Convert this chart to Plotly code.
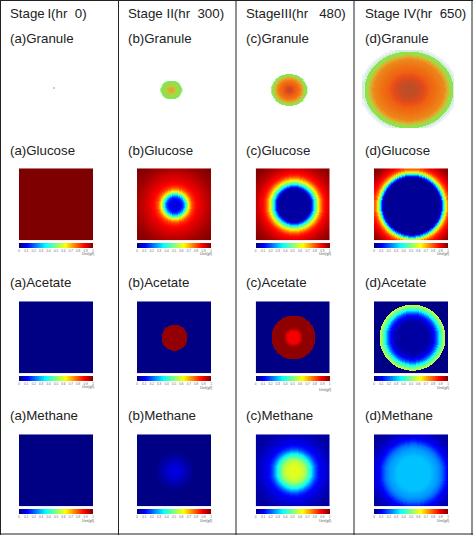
import numpy as np
import plotly.graph_objects as go

W, H = 473, 535

# ---- Text ----------------------------------------------------------------
stage_labels = ["Stage\u2009I(hr\u00a0\u00a00)", "Stage\u00a0II(hr\u00a0\u00a0300)",
                "StageIII(hr\u00a0\u00a0\u00a0480)", "Stage\u00a0IV(hr\u00a0\u00a0650)"]
panel_letters = ["(a)", "(b)", "(c)", "(d)"]
row_names = ["Granule", "Glucose", "Acetate", "Methane"]
tick_values = [0, 0.1, 0.2, 0.3, 0.4, 0.5, 0.6, 0.7, 0.8, 0.9, 1]
tick_labels = ["0", "0.1", "0.2", "0.3", "0.4", "0.5", "0.6", "0.7", "0.8", "0.9", "1"]
unit_label = "Unit(g/l)"

# ---- Values: colour-scale position per 1 px ring ----------------------------
glucose_a = [1.0]
glucose_b = [.08, .08, .08, .09, .10, .11, .13, .15, .20, .28,
             .36, .44, .54, .62, .68, .73, .78, .81, .83, .85,
             .865, .875, .885, .89, .90, .905, .91, .915, .92, .925,
             .93, .935, .94, .945, .95, .955, .96, .965, .97, .973,
             .976, .979, .982, .985, .988, .99, .992, .994, .996, .998, 1.0]
glucose_c = [.03] * 15 + [.035, .05, .09, .16, .26, .36, .43, .50, .56, .62, .68, .73, .77,
                          .81, .84, .86, .875, .885, .895, .905, .915, .925, .935, .94, .945,
                          .955, .96, .965, .97, .975, .98, .985, .99, .993, .996, .998, 1.0]
glucose_d = [.02] * 27 + [.03, .05, .10, .22, .35, .48, .58, .66, .73, .78, .82, .85, .87, .885,
                          .90, .915, .93, .945, .955, .965, .975, .985, .99, 1.0]
acetate_a = [0.005]
acetate_b = [.98] * 13 + [.005]
acetate_c = [.89] * 6 + [.90, .92, .95, .97] + [.985] * 12 + [.005]
acetate_d = [.03] * 15 + [.035, .04, .05, .06, .07, .09, .11, .13, .16, .20, .25, .31, .37, .42,
                          .46, .50, .53, .56, .005]
methane_a = [0.005]
methane_b = [.085, .085, .085, .08, .08, .075, .07, .065, .06, .055, .05, .045, .04, .035, .03,
             .025, .02, .015, .01, .005]
methane_c = [.60] * 6 + [.59, .585, .575, .565, .55, .53, .51, .48, .45, .42, .385, .35, .31, .27,
                         .235, .20, .17, .15, .13, .115, .105, .095, .09, .085, .08, .075, .07,
                         .065, .06, .055, .05, .047, .043, .04, .037, .034, .03]
methane_d = [.30] * 17 + [.295, .29, .285, .28, .275, .27, .265, .26, .25, .24, .23, .22, .20, .18,
                          .16, .14, .125, .11, .10, .09, .08, .075, .07, .06, .055, .05, .045, .04,
                          .035, .03, .03, .025]

# Granule: colour-scale position per 1/20 of the granule radius
granule_b = [.52, .50, .48, .46, .44, .42, .40, .38, .36, .34, .32, .30, .28, .26, .25, .24, .22,
             .20, .20, .18, .0]
granule_c = [.95, .92, .88, .84, .80, .77, .74, .71, .69, .67, .65, .62, .59, .55, .50, .44, .38,
             .30, .24, .20, .0]
granule_d = [.92, .92, .92, .90, .88, .85, .82, .78, .74, .70, .68, .66, .64, .62, .60, .58, .52,
             .42, .30, .22, .10, .06, .0]
granule_a_x = [0.0]
granule_a_y = [-1.0]

# Offsets of the pattern from the panel centre (px)
centre_dx = {"glucose_c": 0.5, "acetate_d": 1.5, "methane_c": 0.5, "methane_d": 1.5,
             "acetate_c": 0.5, "acetate_b": 0.5}
centre_dy = {"acetate_d": 0.7, "methane_d": 2.3, "acetate_b": 0.7, "acetate_c": 0.5,
             "glucose_d": 0.7}

jet = [[0, "#00007f"], [.11, "#0000ff"], [.36, "#00ffff"], [.5, "#7fff7f"],
       [.63, "#ffff00"], [.88, "#ff0000"], [1, "#7f0000"]]
granule_scale = [[0, "#ffffff"], [.08, "#e8eef8"], [.2, "#80e850"], [.35, "#b8d040"],
                 [.5, "#e8a028"], [.65, "#f07010"], [.8, "#e84a18"], [1, "#a05030"]]

# ---- Layout in pixels ------------------------------------------------------
col_left = [19, 137, 255.7, 374]
panel_w = 74
row_top = {"Glucose": 168.3, "Acetate": 301.3, "Methane": 434.3}
panel_h = 72
bar_top = {"Glucose": 243.3, "Acetate": 376, "Methane": 509}
bar_h = 4.8
unit_y = {"Glucose": [254.5, 254.5, 254.5, 254.5], "Acetate": [386.7, 387.7, 390, 388],
          "Methane": [520.7, 520.7, 520.7, 520.7]}
text_x = [7.5, 126, 244, 362.5]
row_text_y = {"Granule": 38.5, "Glucose": 150, "Acetate": 282, "Methane": 415}
gran_cx = [54, 170.3, 288.3, 408]
gran_cy = 89
gran_rx = [None, 10.7, 18, 44.5]
gran_ry = [None, 9.5, 16, 38.5]

fields = {"glucose_a": glucose_a, "glucose_b": glucose_b, "glucose_c": glucose_c,
          "glucose_d": glucose_d, "acetate_a": acetate_a, "acetate_b": acetate_b,
          "acetate_c": acetate_c, "acetate_d": acetate_d, "methane_a": methane_a,
          "methane_b": methane_b, "methane_c": methane_c, "methane_d": methane_d}


def ring_lookup(radius, rings):
    idx = np.minimum((radius).astype(int), len(rings) - 1)
    return np.asarray(rings)[idx]


fig = go.Figure()
layout = dict(width=W, height=H, autosize=False, margin=dict(l=0, r=0, t=0, b=0),
              paper_bgcolor="white", plot_bgcolor="white", showlegend=False)
n = 0


def add_axes(x0, x1, y0, y1, xr, yr):
    global n
    n += 1
    suffix = "" if n == 1 else str(n)
    layout["xaxis" + suffix] = dict(domain=[x0 / W, x1 / W], range=xr, visible=False,
                                    anchor="y" + suffix, fixedrange=True)
    layout["yaxis" + suffix] = dict(domain=[1 - y1 / H, 1 - y0 / H], range=yr, visible=False,
                                    anchor="x" + suffix, fixedrange=True)
    return "x" + suffix, "y" + suffix


# Granule row
for c, rings in enumerate([None, granule_b, granule_c, granule_d]):
    xa, ya = add_axes(gran_cx[c] - 46, gran_cx[c] + 46, gran_cy - 39, gran_cy + 39,
                      [-46, 46], [39, -39])
    if rings is None:
        fig.add_trace(go.Scatter(x=granule_a_x, y=granule_a_y, mode="markers", xaxis=xa, yaxis=ya,
                                 marker=dict(color="#f0a0b0", size=2)))
        continue
    gx = np.arange(-45.5, 46, 1.0)
    gy = np.arange(-38.5, 39, 1.0)
    X, Y = np.meshgrid(gx, gy)
    R = np.hypot(X / gran_rx[c], Y / gran_ry[c]) * 20
    fig.add_trace(go.Heatmap(x=gx, y=gy, z=ring_lookup(R, rings), xaxis=xa, yaxis=ya,
                             zmin=0, zmax=1, colorscale=granule_scale, showscale=False,
                             zsmooth="best", hoverinfo="skip"))

# Field rows
for name in ["Glucose", "Acetate", "Methane"]:
    for c, letter in enumerate("abcd"):
        key = f"{name.lower()}_{letter}"
        x0 = col_left[c]
        y0 = row_top[name]
        xa, ya = add_axes(x0, x0 + panel_w, y0, y0 + panel_h, [-37, 37], [36, -36])
        gx = np.arange(-36.5, 37, 1.0)
        gy = np.arange(-35.5, 36, 1.0)
        X, Y = np.meshgrid(gx, gy)
        R = np.hypot(X - centre_dx.get(key, 0), Y - centre_dy.get(key, 0))
        fig.add_trace(go.Heatmap(
            x=gx, y=gy, z=ring_lookup(R, fields[key]), xaxis=xa, yaxis=ya,
            zmin=0, zmax=1, colorscale=jet, hoverinfo="skip",
            zsmooth=False if name == "Acetate" else "best",
            colorbar=dict(orientation="h", x=x0 / W, xanchor="left",
                          y=1 - bar_top[name] / H, yanchor="top",
                          len=panel_w, lenmode="pixels", thickness=bar_h, thicknessmode="pixels",
                          outlinewidth=0, xpad=0, ypad=0, ticks="",
                          tickmode="array", tickvals=tick_values, ticktext=tick_labels,
                          tickfont=dict(size=3, color="#666666", family="Liberation Sans"))))

# Text
annotations = []


def txt(x, y, s, size=13.3, color="#222222", anchor="left"):
    annotations.append(dict(x=x / W, y=1 - y / H, xref="paper", yref="paper", text=s,
                            showarrow=False, xanchor=anchor, yanchor="middle",
                            font=dict(size=size, color=color, family="Liberation Sans")))


for c in range(4):
    txt(text_x[c], 14, stage_labels[c])
    for r in row_names:
        txt(text_x[c], row_text_y[r], panel_letters[c] + r)
    for r in ["Glucose", "Acetate", "Methane"]:
        txt(col_left[c] + panel_w + 3, unit_y[r][c], unit_label, size=3.5, color="#555555", anchor="right")

# Table rules
shapes = []
for xp in [0.5, 118.5, 236, 354, 472]:
    shapes.append(dict(type="line", xref="paper", yref="paper", x0=xp / W, x1=xp / W, y0=0, y1=1,
                       line=dict(color="#222222", width=1)))
for yp in [0.5, 534]:
    shapes.append(dict(type="line", xref="paper", yref="paper", x0=0, x1=1, y0=1 - yp / H, y1=1 - yp / H,
                       line=dict(color="#222222", width=1)))

layout["annotations"] = annotations
layout["shapes"] = shapes
fig.update_layout(**layout)
fig.write_html("out.html", config={"displayModeBar": False},
               post_script="document.body.style.margin='0';document.body.style.overflow='hidden';")
